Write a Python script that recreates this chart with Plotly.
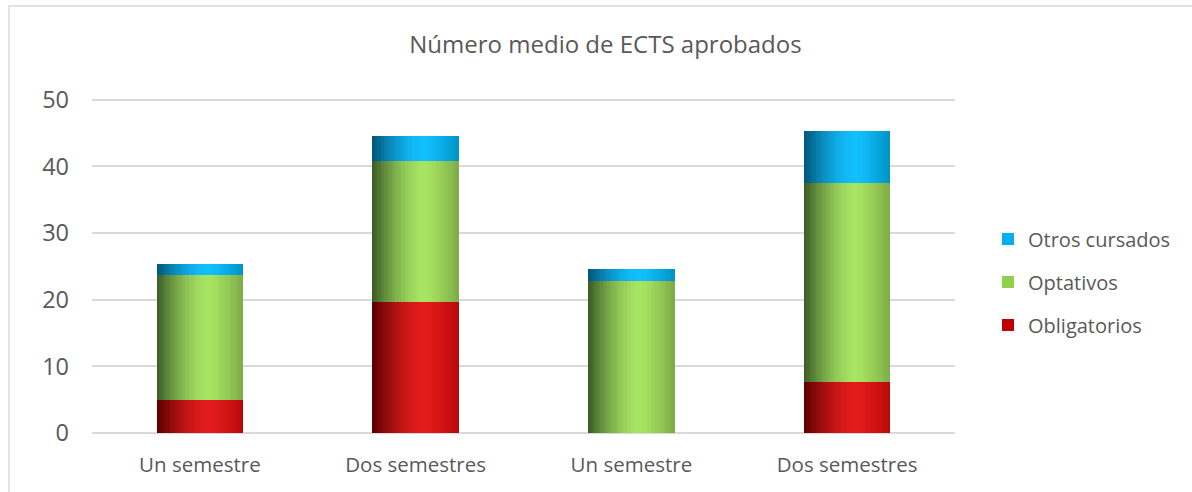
import plotly.graph_objects as go

categories = ["Un semestre", "Dos semestres", "Un semestre", "Dos semestres"]
obligatorios = [5.0, 19.65, 0.0, 7.6]
optativos = [18.7, 21.2, 22.85, 29.9]
otros = [1.7, 3.65, 1.75, 7.75]
series_names = ["Obligatorios", "Optativos", "Otros cursados"]
y_ticks = [0, 10, 20, 30, 40, 50]

# style: (left, peak, right, legend colour)
styles = {
    "Obligatorios": ("#5a0000", "#e31b1b", "#b80808", "#C00000"),
    "Optativos": ("#3b5a26", "#a8e563", "#7eaa46", "#92D050"),
    "Otros cursados": ("#005577", "#12c0ff", "#0092c4", "#00B0F0"),
}

def hex2rgb(h):
    h = h.lstrip("#")
    return [int(h[i:i + 2], 16) for i in (0, 2, 4)]

def mix(a, b, t):
    ca, cb = hex2rgb(a), hex2rgb(b)
    return "rgb(%d,%d,%d)" % tuple(round(ca[i] + (cb[i] - ca[i]) * t) for i in range(3))

def shade(name, t):
    left, peak, right, _ = styles[name]
    p = 0.6
    if t <= p:
        u = t / p
        u = 1 - (1 - u) ** 1.6
        return mix(left, peak, u)
    u = (t - p) / (1 - p)
    return mix(peak, right, u ** 1.3)

x = list(range(len(categories)))
values = {"Obligatorios": obligatorios, "Optativos": optativos, "Otros cursados": otros}

fig = go.Figure()
bar_w = 0.4
N = 36
strip = bar_w / N
base = [0.0] * len(categories)
for name in series_names:
    vals = values[name]
    for j in range(N):
        t = (j + 0.5) / N
        fig.add_trace(go.Bar(
            x=x, y=vals, base=base,
            offset=-bar_w / 2 + j * strip, width=strip * 1.08 if j < N - 1 else strip,
            marker=dict(color=shade(name, t), line=dict(width=0)),
            showlegend=False, hoverinfo="skip", legendgroup=name,
        ))
    base = [b + v for b, v in zip(base, vals)]

ranks = {"Otros cursados": 1, "Optativos": 2, "Obligatorios": 3}
for name in series_names:
    fig.add_trace(go.Bar(
        x=[None], y=[None], name=name, legendgroup=name, legendrank=ranks[name],
        marker=dict(color=styles[name][3], line=dict(width=0)), showlegend=True,
    ))

W, H = 1192, 492
Y_LO, Y_HI = -0.3, 51.0
px_per = 333.3 / 50
L, R = 92, 237
T = round(433 - (Y_HI * px_per))
B = round(H - (433 - Y_LO * px_per))
pw, ph = W - L - R, H - T - B
y0pix = H - B

def py(pix):
    return (y0pix - pix) / ph

fig.update_layout(
    width=W, height=H,
    margin=dict(l=L, r=R, t=T, b=B, autoexpand=False),
    barmode="overlay",
    bargap=0,
    plot_bgcolor="white", paper_bgcolor="white",
    font=dict(family="Open Sans", color="#595959"),
    title=dict(text="Número medio de ECTS aprobados", x=605.5 / W, xanchor="center",
               y=1 - 45 / H, yanchor="middle", yref="container",
               font=dict(size=24, color="#595959", family="Open Sans")),
    xaxis=dict(range=[-0.5, 3.5], tickvals=x, ticktext=categories, showgrid=False,
               zeroline=False, showline=False, ticks="", tickfont=dict(size=20.5, color="#595959"),
               ticklabelstandoff=15),
    yaxis=dict(range=[Y_LO, Y_HI], tickvals=y_ticks, showgrid=True, gridcolor="#d9d9d9",
               gridwidth=1.5, zeroline=False, showline=False, ticks="",
               tickfont=dict(size=23.5, color="#595959"), ticklabelstandoff=22),
    legend=dict(x=(988 - L) / pw, xanchor="left", y=py(282), yanchor="middle",
                font=dict(size=20, color="#595959"), tracegroupgap=14,
                bgcolor="rgba(0,0,0,0)", itemwidth=30),
    shapes=[dict(type="rect", xref="paper", yref="paper",
                 x0=(9 - L) / pw, x1=2, y0=-1, y1=py(6),
                 line=dict(color="#d9d9d9", width=1.5), layer="below")],
)

fig.write_html("out.html", config={"displayModeBar": False},
               post_script="document.body.style.margin='0';document.body.style.overflow='hidden';")
